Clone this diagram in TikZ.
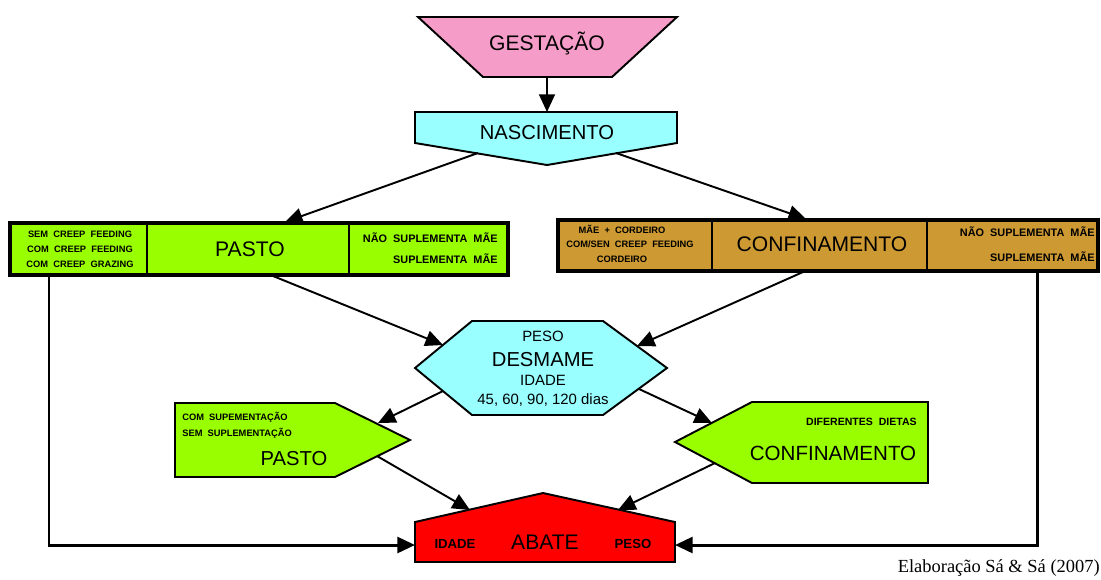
\documentclass[tikz,border=0pt]{standalone}
\usepackage{fontspec}
\setmainfont{Liberation Sans}
\newfontfamily\citefont{Liberation Serif}
\usetikzlibrary{arrows.meta}
\definecolor{gestpink}{HTML}{F59DC8}
\definecolor{nasccyan}{HTML}{99FFFF}
\definecolor{pastogreen}{HTML}{99FF00}
\definecolor{confbrown}{HTML}{CC9933}
\definecolor{abatered}{HTML}{FF0000}

\begin{document}
\begin{tikzpicture}[x=0.02cm,y=-0.02cm,
  blockline/.style={draw=black,line width=1.1pt,line join=miter},
  barline/.style={draw=black,line width=2.2pt},
  cellline/.style={draw=black,line width=1.6pt},
  arr/.style={-{Triangle[length=10pt,width=9pt]},line width=1.1pt},
  sideline/.style={-{Triangle[length=10pt,width=9pt]},line width=1.7pt},
  bigtext/.style={font=\fontsize{12}{13}\selectfont,inner sep=0pt,text height=8.6pt,text depth=0pt},
  midtext/.style={font=\fontsize{8.5}{9}\selectfont,inner sep=0pt,text height=6.1pt,text depth=0pt},
  labeltext/.style={font=\fontsize{7.5}{8}\selectfont\bfseries,inner sep=0pt,text height=5.4pt,text depth=0pt},
  smalltext/.style={font=\fontsize{5.3}{6}\selectfont\bfseries,inner sep=0pt,text height=3.8pt,text depth=0pt},
  widetext/.style={font=\fontsize{6.2}{7}\selectfont\bfseries,inner sep=0pt,text height=4.4pt,text depth=0pt}]
\useasboundingbox (0,0) rectangle (1101,579);
% Side connectors to ABATE
\coordinate (pbar-sw) at (49,275);
\coordinate (cbar-se) at (1037,271);
\coordinate (abat-w) at (415,545);
\coordinate (abat-e) at (675,545);
\draw[sideline] (pbar-sw) |- (abat-w);
\draw[sideline] (cbar-se) |- (abat-e);
% GESTACAO
\filldraw[blockline,fill=gestpink] (418,17) -- (677,17) -- (612,77) -- (483,77) -- cycle;
\node[bigtext] (gest) at (547,43) {GESTAÇÃO};
% NASCIMENTO
\filldraw[blockline,fill=nasccyan] (415,112) -- (677,112) -- (677,143) -- (547,165) -- (415,143) -- cycle;
\node[bigtext,font=\fontsize{11.5}{12}\selectfont] (nasc) at (547,132) {NASCIMENTO};
% PASTO bar
\fill[pastogreen] (10,223) rectangle (508,275);
\draw[cellline] (147,223) -- (147,275);
\draw[cellline] (349,223) -- (349,275);
\draw[barline] (10,223) rectangle (508,275);
\node[smalltext] (pbar-a) at (80,234) {SEM\ \ CREEP\ \ FEEDING};
\node[smalltext] (pbar-b) at (80,249) {COM\ \ CREEP\ \ FEEDING};
\node[smalltext] (pbar-c) at (80,264) {COM\ \ CREEP\ \ GRAZING};
\node[bigtext] (pbar) at (250,249) {PASTO};
\node[widetext,anchor=east] (pbar-d) at (498,239) {NÃO\ \ SUPLEMENTA\ \ MÃE};
\node[widetext,anchor=east] (pbar-e) at (498,260) {SUPLEMENTA\ \ MÃE};
% CONFINAMENTO bar
\fill[confbrown] (558,220) rectangle (1098,271);
\draw[cellline] (712,220) -- (712,271);
\draw[cellline] (927,220) -- (927,271);
\draw[barline] (558,220) rectangle (1098,271);
\node[smalltext] (cbar-a) at (622,230) {MÃE\ \ +\ \ CORDEIRO};
\node[smalltext] (cbar-b) at (630,244) {COM/SEN\ \ CREEP\ \ FEEDING};
\node[smalltext] (cbar-c) at (622,259) {CORDEIRO};
\node[bigtext] (cbar) at (822,244) {CONFINAMENTO};
\node[widetext,anchor=east] (cbar-d) at (1095,233) {NÃO\ \ SUPLEMENTA\ \ MÃE};
\node[widetext,anchor=east] (cbar-e) at (1095,258) {SUPLEMENTA\ \ MÃE};
% DESMAME
\filldraw[blockline,fill=nasccyan] (415,368) -- (472,321) -- (603,321) -- (667,368) -- (603,415) -- (472,415) -- cycle;
\node[midtext] (desm-a) at (543,336) {PESO};
\node[bigtext,font=\fontsize{11.5}{12}\selectfont] (desm) at (543,359) {DESMAME};
\node[midtext] (desm-b) at (543,380) {IDADE};
\node[midtext] (desm-c) at (543,399) {45, 60, 90, 120 dias};
% PASTO after weaning
\filldraw[blockline,fill=pastogreen] (175,403) -- (335,403) -- (410,440) -- (335,477) -- (175,477) -- cycle;
\node[smalltext,anchor=west] (ppen-a) at (182,417) {COM\ \ SUPEMENTAÇÃO};
\node[smalltext,anchor=west] (ppen-b) at (182,433) {SEM\ \ SUPLEMENTAÇÃO};
\node[bigtext,font=\fontsize{11.5}{12}\selectfont] (ppen) at (294,458) {PASTO};
% CONFINAMENTO after weaning
\filldraw[blockline,fill=pastogreen] (928,402) -- (752,402) -- (675,442) -- (752,483) -- (928,483) -- cycle;
\node[smalltext,font=\fontsize{6}{7}\selectfont\bfseries,anchor=east] (cpen-a) at (917,422) {DIFERENTES\ \ DIETAS};
\node[bigtext,font=\fontsize{11.7}{12}\selectfont] (cpen) at (833,453) {CONFINAMENTO};
% ABATE
\filldraw[blockline,fill=abatered] (415,562) -- (415,522) -- (543,493) -- (675,522) -- (675,562) -- cycle;
\node[labeltext] (abat-a) at (455,544) {IDADE};
\node[bigtext] (abat) at (545,542) {ABATE};
\node[labeltext] (abat-b) at (633,544) {PESO};
% connectors
\coordinate (gest-s) at (547,77);
\coordinate (nasc-n) at (547,112);
\coordinate (nasc-sw) at (478,153);
\coordinate (nasc-se) at (616,153);
\coordinate (pbar-n) at (285,222);
\coordinate (cbar-n) at (806,219);
\coordinate (pbar-s) at (273,276);
\coordinate (cbar-s) at (803,272);
\coordinate (desm-nw) at (443,345);
\coordinate (desm-ne) at (637,346);
\coordinate (desm-sw) at (443,391);
\coordinate (desm-se) at (639,389);
\coordinate (ppen-ne) at (378,423);
\coordinate (cpen-nw) at (712,423);
\coordinate (ppen-se) at (377,456);
\coordinate (cpen-sw) at (715,463);
\coordinate (abat-nw) at (470,510);
\coordinate (abat-ne) at (618,510);
\draw[arr] (gest-s) -- (nasc-n);
\draw[arr] (nasc-sw) -- (pbar-n);
\draw[arr] (nasc-se) -- (cbar-n);
\draw[arr] (pbar-s) -- (desm-nw);
\draw[arr] (cbar-s) -- (desm-ne);
\draw[arr] (desm-sw) -- (ppen-ne);
\draw[arr] (desm-se) -- (cpen-nw);
\draw[arr] (ppen-se) -- (abat-nw);
\draw[arr] (cpen-sw) -- (abat-ne);
% source
\node[font=\citefont\fontsize{10.5}{11}\selectfont,anchor=east,inner sep=0pt] (fonte) at (1100,568) {Elaboração Sá \& Sá (2007)};
\end{tikzpicture}
\end{document}
